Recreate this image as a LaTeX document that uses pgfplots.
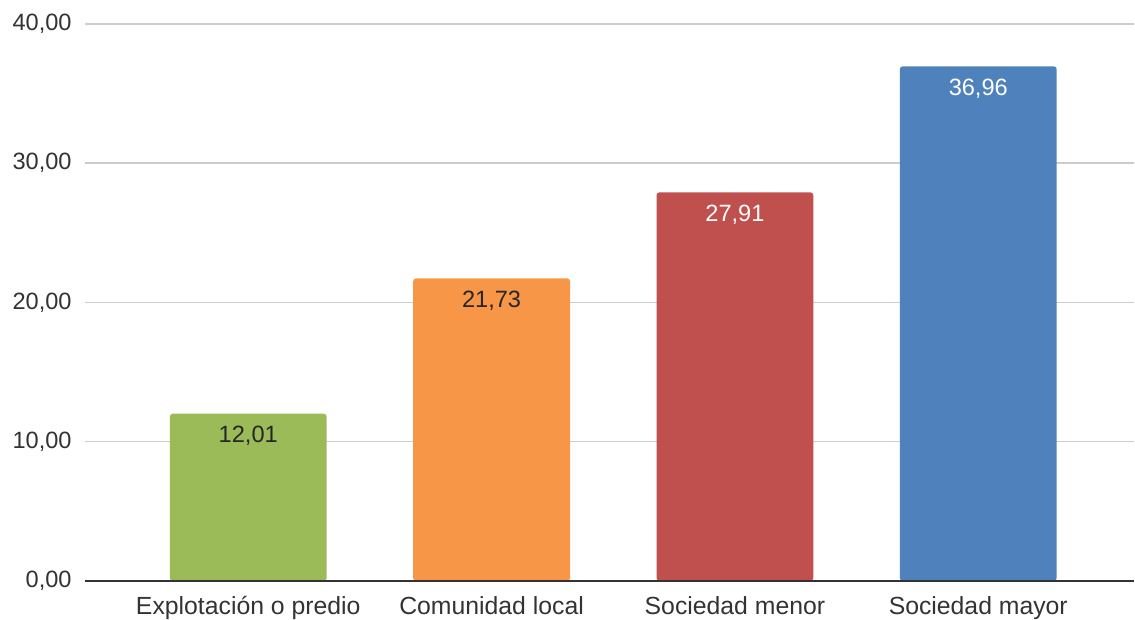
\documentclass[border=0pt]{standalone}
\usepackage{pgfplots}
\pgfplotsset{compat=1.18}
\usepackage{fontspec}
\setmainfont{Liberation Sans}
\definecolor{cgreen}{HTML}{9BBB59}
\definecolor{corange}{HTML}{F79646}
\definecolor{cred}{HTML}{C0504D}
\definecolor{cblue}{HTML}{4F81BD}
\definecolor{ctext}{HTML}{333333}
\definecolor{cgrid}{HTML}{CCCCCC}
\pgfkeys{/pgf/number format/.cd, use comma, fixed, fixed zerofill, precision=2, assume math mode=true}
\begin{document}
\begin{tikzpicture}
\begin{axis}[
  scale only axis,
  width=525pt, height=278.75pt,
  xmin=-0.671, xmax=3.64,
  ymin=0, ymax=40,
  ytick={0,10,20,30,40},
  xtick={0,1,2,3},
  xticklabels={Explotación o predio, Comunidad local, Sociedad menor, Sociedad mayor},
  axis line style={draw=none},
  major tick length=0pt,
  ymajorgrids,
  grid style={cgrid, line width=0.8pt},
  tick label style={font=\fontsize{11.8}{13}\selectfont, text=ctext},
  yticklabel style={inner sep=0pt, xshift=-6.5pt},
  xticklabel style={inner sep=0pt, yshift=-7.5pt, font=\fontsize{12.4}{14}\selectfont},
  ybar, bar width=78.5pt, bar shift=0pt,
  nodes near coords,
  every node near coord/.append style={font=\fontsize{11.8}{13}\selectfont, anchor=north, inner sep=0pt, yshift=-6pt},
  clip=false,
]
\addplot[draw=none, fill=cgreen, rounded corners=1.5pt, every node near coord/.append style={text=black!85}] coordinates {(0,12.01)};
\addplot[draw=none, fill=corange, rounded corners=1.5pt, every node near coord/.append style={text=black!85}] coordinates {(1,21.73)};
\addplot[draw=none, fill=cred, rounded corners=1.5pt, every node near coord/.append style={text=white}] coordinates {(2,27.91)};
\addplot[draw=none, fill=cblue, rounded corners=1.5pt, every node near coord/.append style={text=white}] coordinates {(3,36.96)};
\draw[ctext, line width=1pt] (rel axis cs:0,0) -- (rel axis cs:1,0);
\path[use as bounding box] (rel axis cs:-0.081,-0.0682) rectangle (rel axis cs:1,1.043);
\end{axis}
\end{tikzpicture}
\end{document}
